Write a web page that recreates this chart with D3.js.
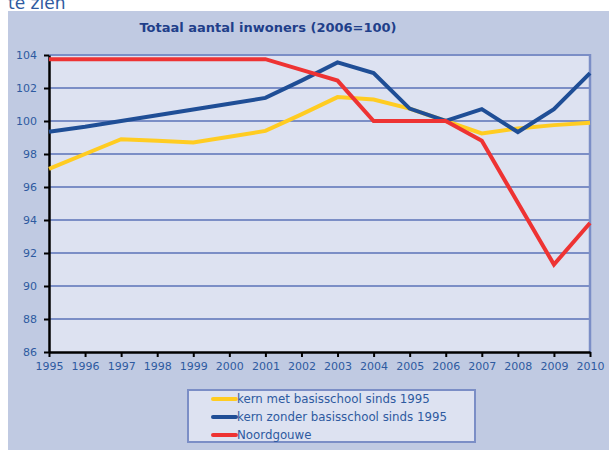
<!DOCTYPE html>
<html>
<head>
<meta charset="utf-8">
<script src="https://cdn.jsdelivr.net/npm/d3@7"></script>
<style>
  body { margin: 0; background: #fff; }
  svg { display: block; font-family: 'DejaVu Sans', Verdana, sans-serif; }
</style>
</head>
<body>
<svg id="chart" width="609" height="450"></svg>
<script>
// data
const years = [1995, 1996, 1997, 1998, 1999, 2000, 2001, 2002, 2003, 2004, 2005, 2006, 2007, 2008, 2009, 2010];
const yTicks = [86, 88, 90, 92, 94, 96, 98, 100, 102, 104];
const metSchool = [97.1, 98.0, 98.9, 98.8, 98.7, 99.05, 99.4, 100.4, 101.45, 101.3, 100.75, 100.0, 99.25, 99.55, 99.75, 99.9];
const zonderSchool = [99.35, 99.65, 100.0, 100.35, 100.7, 101.05, 101.4, 102.45, 103.55, 102.9, 100.75, 100.0, 100.72, 99.33, 100.72, 102.9];
const noordgouwe = [103.75, 103.75, 103.75, 103.75, 103.75, 103.75, 103.75, 103.1, 102.45, 100.0, 100.0, 100.0, 98.8, 95.05, 91.3, 93.82];
const seriesNames = ['kern met basisschool sinds 1995', 'kern zonder basisschool sinds 1995', 'Noordgouwe'];
const title = 'Totaal aantal inwoners (2006=100)';

const colors = ['#ffcc22', '#1f4e96', '#ee3333'];
const textColor = '#2e5aa0';
const gridColor = '#7b8ec6';

const svg = d3.select('#chart');

// bit of the surrounding document text, cut off at the top
svg.append('text')
  .attr('x', 8).attr('y', 9)
  .attr('font-size', 17).attr('fill', textColor)
  .text('te zien');

// outer chart background
svg.append('rect')
  .attr('x', 8).attr('y', 11).attr('width', 601).attr('height', 439)
  .attr('fill', '#c0cae2');

const plot = { left: 49, right: 590, top: 55, bottom: 352 };
const x = d3.scaleLinear().domain([1995, 2010]).range([plot.left, plot.right]);
const y = d3.scaleLinear().domain([86, 104]).range([plot.bottom, plot.top]);

svg.append('rect')
  .attr('x', plot.left).attr('y', plot.top)
  .attr('width', plot.right - plot.left).attr('height', plot.bottom - plot.top)
  .attr('fill', '#dde2f1');

svg.append('text')
  .attr('x', 268).attr('y', 32)
  .attr('text-anchor', 'middle')
  .attr('font-size', 13).attr('font-weight', 'bold')
  .attr('fill', '#1f3f8a')
  .text(title);

// gridlines + right border
svg.append('g').selectAll('line')
  .data(yTicks.filter(d => d !== 86)).enter().append('line')
  .attr('x1', plot.left).attr('x2', plot.right)
  .attr('y1', d => y(d)).attr('y2', d => y(d))
  .attr('stroke', gridColor).attr('stroke-width', 2);

svg.append('line')
  .attr('x1', plot.right).attr('x2', plot.right).attr('y1', plot.top - 1).attr('y2', plot.bottom)
  .attr('stroke', gridColor).attr('stroke-width', 2.5);

// axes
const yAxis = d3.axisLeft(y).tickValues(yTicks).tickSize(5).tickPadding(7).tickSizeOuter(0);
const xAxis = d3.axisBottom(x).tickValues(years).tickFormat(d3.format('d')).tickSize(5).tickPadding(5).tickSizeOuter(0);

const gy = svg.append('g').attr('transform', `translate(${plot.left},0)`).call(yAxis);
const gx = svg.append('g').attr('transform', `translate(0,${plot.bottom})`).call(xAxis);

[gy, gx].forEach(g => {
  g.select('.domain').attr('stroke', '#000').attr('stroke-width', 2.5);
  g.selectAll('.tick line').attr('stroke', '#000').attr('stroke-width', 2);
  g.selectAll('.tick text').attr('fill', textColor).attr('font-size', 11)
    .attr('font-family', "'DejaVu Sans', Verdana, sans-serif");
});

// series
const allSeries = [metSchool, zonderSchool, noordgouwe];
const line = d3.line().x((d, i) => x(years[i])).y(d => y(d));

svg.append('g').selectAll('path')
  .data(allSeries).enter().append('path')
  .attr('d', line)
  .attr('fill', 'none')
  .attr('stroke', (d, i) => colors[i])
  .attr('stroke-width', 4)
  .attr('stroke-linejoin', 'miter');

// legend
const legend = svg.append('g');
legend.append('rect')
  .attr('x', 188).attr('y', 390).attr('width', 287).attr('height', 52)
  .attr('fill', '#dde2f1').attr('stroke', gridColor).attr('stroke-width', 2);

const item = legend.selectAll('g.item')
  .data(seriesNames).enter().append('g')
  .attr('transform', (d, i) => `translate(0,${399 + i * 18})`);

item.append('line')
  .attr('x1', 213).attr('x2', 236).attr('y1', 0).attr('y2', 0)
  .attr('stroke', (d, i) => colors[i]).attr('stroke-width', 4)
  .attr('stroke-linecap', 'round');

item.append('text')
  .attr('x', 237).attr('y', 4)
  .attr('font-size', 11.8).attr('fill', textColor)
  .text(d => d);
</script>
</body>
</html>
